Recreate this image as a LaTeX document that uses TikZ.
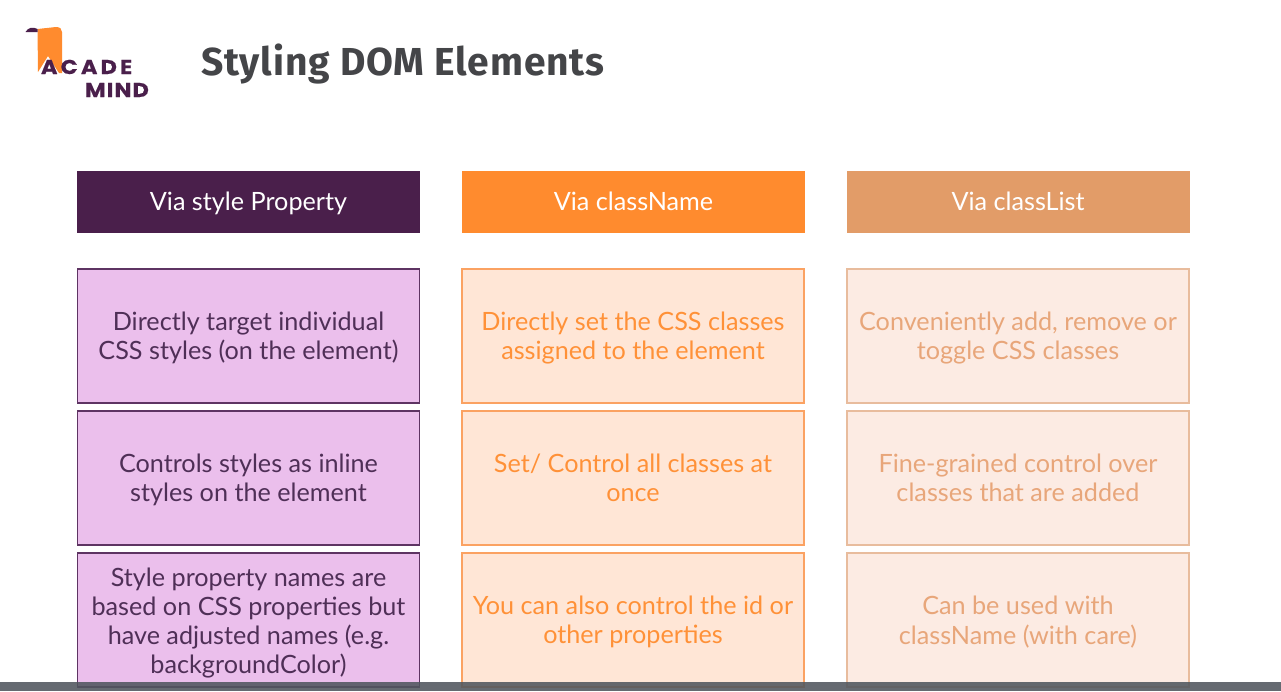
\documentclass[tikz,border=0pt]{standalone}
\usepackage{fontspec}
\setmainfont{Lato}
\newfontfamily\titlefont[LetterSpace=2.2]{Fira Sans}
\newfontfamily\logofont[LetterSpace=16,FakeStretch=1.12,BoldFeatures={FakeBold=0.5}]{Poppins}
\newfontfamily\logofontb[LetterSpace=6,FakeStretch=1.12,BoldFeatures={FakeBold=0.5}]{Poppins}
\definecolor{plum}{HTML}{4A1F4B}
\definecolor{plumline}{HTML}{5E3463}
\definecolor{plumfill}{HTML}{EBBFEC}
\definecolor{plumtext}{HTML}{4F2F57}
\definecolor{orng}{HTML}{FF8B2E}
\definecolor{orngline}{HTML}{FBA262}
\definecolor{orngtext}{HTML}{FF9138}
\definecolor{orngfill}{HTML}{FFE6D6}
\definecolor{tan}{HTML}{E29C68}
\definecolor{tantext}{HTML}{E8A67A}
\definecolor{tanfill}{HTML}{FCEBE3}
\definecolor{tanline}{HTML}{E8BC9D}
\definecolor{titlegray}{HTML}{444548}
\definecolor{barcol}{HTML}{50565E}
\tikzset{
  x=1pt,y=-1pt,
  every node/.style={inner sep=0pt,outer sep=0pt},
  headbox/.style={minimum width=343pt,minimum height=62pt,text=white,text height=23pt,text depth=6pt,font=\fontsize{25.2}{30}\selectfont,anchor=center},
  bodybox/.style={minimum width=342pt,minimum height=134pt,line width=1.5pt,anchor=center},
  plumbox/.style={bodybox,draw=plumline,fill=plumfill},
  orngbox/.style={bodybox,draw=orngline,fill=orngfill},
  tanbox/.style={bodybox,draw=tanline,fill=tanfill},
  bodytext/.style={align=center,font=\fontsize{25.2}{29.2}\selectfont,anchor=center},
  plumtxt/.style={bodytext,text=plumtext},
  orngtxt/.style={bodytext,text=orngtext},
  tantxt/.style={bodytext,text=tantext},
  logotext/.style={text=plum,font=\logofont\bfseries\fontsize{20}{20}\selectfont,anchor=base west},
  logotextb/.style={text=plum,font=\logofontb\bfseries\fontsize{20}{20}\selectfont,anchor=base west},
}
\begin{document}
\begin{tikzpicture}
\useasboundingbox (0,0) rectangle (1281,691);
\fill[white] (0,0) rectangle (1281,691);
% logo
\fill[orng] (37.5,29) -- (56,27) .. controls (60,27) and (62,29) .. (62,32) -- (62,73) -- (59,73) -- (48,56) -- (38,72) -- cycle;
\fill[plum] (25.5,32) .. controls (28,27.5) and (33,26.5) .. (37.5,29) -- (37.5,32) -- cycle;
\node[logotext] (logoa) at (41,74) {ACADE};
\node[logotextb] (logoc) at (85,97) {MIND};
% title
\node[text=titlegray,font=\titlefont\bfseries\fontsize{39}{42}\selectfont,anchor=base west] (title) at (201,75) {Styling DOM Elements};
% headers
\node[headbox,fill=plum] (h1) at (248.5,202) {Via style Property};
\node[headbox,fill=orng] (h2) at (633.5,202) {Via className};
\node[headbox,fill=tan] (h3) at (1018,202) {Via classList};
% column 1
\node[plumbox] (a1) at (248.5,336) {};
\node[plumbox] (a2) at (248.5,478) {};
\node[plumbox] (a3) at (248.5,620) {};
\node[plumtxt,yshift=-2pt] (ta1) at (a1.center) {Directly target individual\\CSS styles (on the element)};
\node[plumtxt,yshift=-2pt] (ta2) at (a2.center) {Controls styles as inline\\styles on the element};
\node[plumtxt,yshift=-3pt] (ta3) at (a3.center) {Style property names are\\based on CSS properties but\\have adjusted names (e.g.\\backgroundColor)};
% column 2
\node[orngbox] (b1) at (633,336) {};
\node[orngbox] (b2) at (633,478) {};
\node[orngbox] (b3) at (633,620) {};
\node[orngtxt,yshift=-2pt] (tb1) at (b1.center) {Directly set the CSS classes\\assigned to the element};
\node[orngtxt] (tb2) at (b2.center) {Set/ Control all classes at\\once};
\node[orngtxt,yshift=-2pt] (tb3) at (b3.center) {You can also control the id or\\other properties};
% column 3
\node[tanbox] (c1) at (1018,336) {};
\node[tanbox] (c2) at (1018,478) {};
\node[tanbox] (c3) at (1018,620) {};
\node[tantxt,yshift=-2pt] (tc1) at (c1.center) {Conveniently add, remove or\\toggle CSS classes};
\node[tantxt] (tc2) at (c2.center) {Fine-grained control over\\classes that are added};
\node[tantxt,yshift=-2pt] (tc3) at (c3.center) {Can be used with\\className (with care)};
% player bar
\fill[barcol,opacity=.88] (0,682) rectangle (1281,691);
\end{tikzpicture}
\end{document}
